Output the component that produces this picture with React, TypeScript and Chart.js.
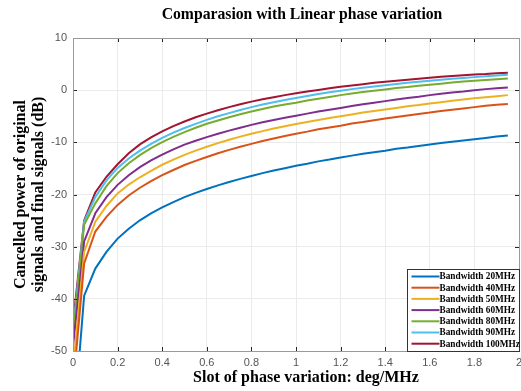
import React, { useEffect, useRef } from 'react';
import { Chart, registerables } from 'chart.js';

Chart.register(...registerables);

const chartTitle = 'Comparasion with Linear phase variation';
const xAxisTitle = 'Slot of phase variation: deg/MHz';
const yAxisTitle = ['Cancelled power of original', 'signals and final signals (dB)'];

const slotValues = [
  0, 0.05, 0.1, 0.15, 0.2, 0.25, 0.3, 0.35, 0.4, 0.45,
  0.5, 0.55, 0.6, 0.65, 0.7, 0.75, 0.8, 0.85, 0.9, 0.95,
  1.0, 1.05, 1.1, 1.15, 1.2, 1.25, 1.3, 1.35, 1.4, 1.45,
  1.5, 1.55, 1.6, 1.65, 1.7, 1.75, 1.8, 1.85, 1.9, 1.95,
];

const bw20 = [
  -66, -39.4, -34.2, -31.0, -28.45, -26.55, -24.95, -23.6, -22.45, -21.45,
  -20.5, -19.7, -18.95, -18.25, -17.6, -17.0, -16.45, -15.9, -15.4, -14.95,
  -14.5, -14.1, -13.65, -13.3, -12.9, -12.55, -12.2, -11.9, -11.6, -11.25,
  -11.0, -10.7, -10.4, -10.15, -9.9, -9.65, -9.4, -9.15, -8.9, -8.7,
];
const bw40 = [
  -57, -33.2, -27.1, -24.3, -22.0, -20.2, -18.7, -17.45, -16.3, -15.3,
  -14.35, -13.55, -12.8, -12.1, -11.45, -10.85, -10.3, -9.75, -9.25, -8.8,
  -8.35, -7.95, -7.5, -7.15, -6.8, -6.4, -6.1, -5.75, -5.45, -5.15,
  -4.85, -4.55, -4.3, -4.0, -3.75, -3.5, -3.25, -3.0, -2.8, -2.65,
];
const bw50 = [
  -53.4, -31.0, -25.2, -22.2, -19.8, -18.1, -16.7, -15.45, -14.3, -13.3,
  -12.4, -11.6, -10.85, -10.15, -9.5, -8.9, -8.35, -7.85, -7.35, -6.9,
  -6.5, -6.1, -5.7, -5.35, -5.0, -4.65, -4.3, -4.0, -3.7, -3.4,
  -3.1, -2.85, -2.55, -2.3, -2.05, -1.8, -1.55, -1.35, -1.15, -0.95,
];
const bw60 = [
  -49.2, -29.0, -23.6, -20.5, -18.15, -16.3, -14.75, -13.45, -12.35, -11.35,
  -10.45, -9.7, -9.0, -8.35, -7.75, -7.2, -6.65, -6.15, -5.7, -5.3,
  -4.9, -4.5, -4.1, -3.75, -3.4, -3.05, -2.7, -2.4, -2.1, -1.8,
  -1.5, -1.25, -0.95, -0.7, -0.45, -0.25, 0.0, 0.2, 0.35, 0.5,
];
const bw80 = [
  -47, -25.8, -21.7, -18.4, -15.9, -14.0, -12.45, -11.1, -9.95, -8.95,
  -8.05, -7.2, -6.45, -5.8, -5.2, -4.6, -4.1, -3.6, -3.15, -2.75,
  -2.4, -2.0, -1.65, -1.3, -0.95, -0.65, -0.35, -0.1, 0.15, 0.4,
  0.6, 0.85, 1.05, 1.25, 1.45, 1.65, 1.8, 1.95, 2.1, 2.25,
];
const bw90 = [
  -46, -25.2, -20.5, -17.3, -14.9, -13.1, -11.6, -10.3, -9.15, -8.15,
  -7.25, -6.45, -5.7, -5.0, -4.4, -3.8, -3.25, -2.75, -2.3, -1.9,
  -1.5, -1.1, -0.75, -0.4, -0.1, 0.2, 0.45, 0.7, 0.95, 1.2,
  1.4, 1.6, 1.8, 2.0, 2.2, 2.35, 2.5, 2.65, 2.8, 2.95,
];
const bw100 = [
  -44.7, -25.0, -19.6, -16.6, -14.2, -12.1, -10.4, -9.05, -7.9, -6.9,
  -6.0, -5.2, -4.5, -3.85, -3.25, -2.7, -2.2, -1.75, -1.35, -0.95,
  -0.6, -0.25, 0.05, 0.35, 0.65, 0.9, 1.15, 1.4, 1.6, 1.8,
  2.0, 2.2, 2.4, 2.55, 2.7, 2.85, 3.0, 3.1, 3.25, 3.35,
];

const seriesLabels = [
  'Bandwidth 20MHz', 'Bandwidth 40MHz', 'Bandwidth 50MHz', 'Bandwidth 60MHz',
  'Bandwidth 80MHz', 'Bandwidth 90MHz', 'Bandwidth 100MHz',
];
const seriesValues = [bw20, bw40, bw50, bw60, bw80, bw90, bw100];
const seriesColors = ['#0072BD', '#D95319', '#EDB120', '#7E2F8E', '#77AC30', '#4DBEEE', '#A2142F'];

const X_MIN = 0, X_MAX = 2, X_STEP = 0.2;
const Y_MIN = -50, Y_MAX = 10, Y_STEP = 10;

const SERIF = '"Times New Roman", "Liberation Serif", serif';
const SANS = 'Arial, "Liberation Sans", sans-serif';

const framePlugin = {
  id: 'matlabFrame',
  afterDatasetsDraw(chart: any) {
    const { ctx, chartArea } = chart;
    const { left, right, top, bottom } = chartArea;
    const xs = chart.scales.x;
    const ys = chart.scales.y;
    ctx.save();
    ctx.strokeStyle = '#262626';
    ctx.lineWidth = 1;
    ctx.beginPath();
    const tl = 4;
    xs.ticks.forEach((t: any) => {
      const px = Math.round(xs.getPixelForValue(t.value)) + 0.5;
      ctx.moveTo(px, bottom);
      ctx.lineTo(px, bottom - tl);
      ctx.moveTo(px, top);
      ctx.lineTo(px, top + tl);
    });
    ys.ticks.forEach((t: any) => {
      const py = Math.round(ys.getPixelForValue(t.value)) + 0.5;
      ctx.moveTo(left, py);
      ctx.lineTo(left + tl, py);
      ctx.moveTo(right, py);
      ctx.lineTo(right - tl, py);
    });
    ctx.stroke();
    ctx.strokeStyle = '#9a9a9a';
    ctx.strokeRect(Math.round(left) + 0.5, Math.round(top) + 0.5, Math.round(right - left), Math.round(bottom - top));

    // legend
    const boxW = 112;
    const rowH = 11.2;
    const boxH = 82;
    const bx = Math.round(right - boxW) + 0.5;
    const by = Math.round(bottom - boxH) + 0.5;
    ctx.fillStyle = '#ffffff';
    ctx.fillRect(bx, by, boxW, boxH);
    ctx.strokeStyle = '#333333';
    ctx.strokeRect(bx, by, boxW, boxH);
    ctx.font = `bold 9.3px ${SERIF}`;
    ctx.textBaseline = 'middle';
    ctx.textAlign = 'left';
    chart.data.datasets.forEach((ds: any, i: number) => {
      const y = by + 7 + i * rowH;
      ctx.strokeStyle = ds.borderColor;
      ctx.lineWidth = 2;
      ctx.beginPath();
      ctx.moveTo(bx + 4, y);
      ctx.lineTo(bx + 32, y);
      ctx.stroke();
      ctx.fillStyle = '#000000';
      ctx.fillText(ds.label, bx + 32, y + 0.5);
    });

    // titles
    const cx = (left + right) / 2;
    ctx.fillStyle = '#000000';
    ctx.textAlign = 'center';
    ctx.textBaseline = 'middle';
    ctx.font = `bold 15.7px ${SERIF}`;
    ctx.fillText(chartTitle, cx + 6, 15);
    ctx.font = `bold 16px ${SERIF}`;
    ctx.fillText(xAxisTitle, cx + 10, 378);
    ctx.restore();
  },
};

export default function App() {
  const canvasRef = useRef<HTMLCanvasElement | null>(null);

  useEffect(() => {
    if (!canvasRef.current) return;
    const datasets = seriesValues.map((vals, i) => ({
      label: seriesLabels[i],
      data: slotValues.map((x, j) => ({ x, y: vals[j] })),
      borderColor: seriesColors[i],
      backgroundColor: seriesColors[i],
      borderWidth: 2,
      pointRadius: 0,
      tension: 0,
      fill: false,
    }));
    const chart = new Chart(canvasRef.current, {
      type: 'line',
      data: { datasets },
      plugins: [framePlugin],
      options: {
        animation: false,
        responsive: true,
        maintainAspectRatio: false,
        layout: { padding: { left: 0, right: 2, top: 38, bottom: 0 } },
        plugins: {
          legend: { display: false },
          tooltip: { enabled: false },
          title: { display: false },
        },
        scales: {
          x: {
            type: 'linear',
            min: X_MIN,
            max: X_MAX,
            ticks: {
              stepSize: X_STEP,
              color: '#555555',
              font: { family: SANS, size: 11 },
              padding: 5,
              maxRotation: 0,
              autoSkip: false,
              callback: (v: any) => String(Number(Number(v).toFixed(1))),
            },
            grid: { color: '#ebebeb', drawTicks: false },
            border: { display: false },
            title: { display: false },
            afterFit: (scale: any) => {
              scale.height = 40;
              scale.paddingRight = 0;
              scale.paddingLeft = 0;
            },
          },
          y: {
            type: 'linear',
            min: Y_MIN,
            max: Y_MAX,
            ticks: {
              stepSize: Y_STEP,
              color: '#555555',
              font: { family: SANS, size: 11 },
              padding: 6,
            },
            grid: { color: '#ebebeb', drawTicks: false },
            border: { display: false },
            title: {
              display: true,
              text: yAxisTitle,
              color: '#000000',
              font: { family: SERIF, size: 16, weight: 'bold', lineHeight: 1.1 },
              padding: { top: 12, bottom: 0 },
            },
            afterFit: (scale: any) => {
              scale.width = 73;
              scale.paddingTop = 0;
              scale.paddingBottom = 0;
            },
          },
        },
      },
    } as any);
    return () => chart.destroy();
  }, []);

  return (
    <div style={{ position: 'fixed', left: 0, top: 0, width: 521, height: 391, background: '#ffffff' }}>
      <canvas ref={canvasRef} />
    </div>
  );
}
